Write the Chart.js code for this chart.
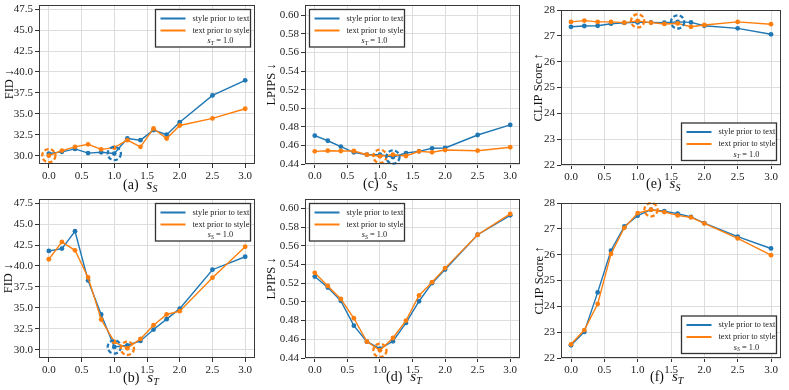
<!DOCTYPE html>
<html><head><meta charset="utf-8">
<script src="https://cdn.jsdelivr.net/npm/chart.js@4.4.0/dist/chart.umd.min.js"></script>
<style>
html,body{margin:0;padding:0;background:#fff;width:789px;height:390px;overflow:hidden;position:relative}
canvas{position:absolute}
</style></head><body>
<canvas id="pa"></canvas><canvas id="pc"></canvas><canvas id="pe"></canvas>
<canvas id="pb"></canvas><canvas id="pd"></canvas><canvas id="pf"></canvas>
<script>
// ---------- data ----------
const sGrid = [0.0, 0.2, 0.4, 0.6, 0.8, 1.0, 1.2, 1.4, 1.6, 1.8, 2.0, 2.5, 3.0];
const xTickValues = [0.0, 0.5, 1.0, 1.5, 2.0, 2.5, 3.0];
const fidTicks = [30.0, 32.5, 35.0, 37.5, 40.0, 42.5, 45.0, 47.5];
const lpipsTicks = [0.44, 0.46, 0.48, 0.50, 0.52, 0.54, 0.56, 0.58, 0.60];
const clipTicks = [22, 23, 24, 25, 26, 27, 28];
const seriesNames = ['style prior to text', 'text prior to style'];

// (a) FID vs s_S  (s_T = 1.0)
const fidVsSS_style = [30.25, 30.45, 30.8, 30.3, 30.4, 30.25, 32.05, 31.85, 33.05, 32.5, 34.0, 37.2, 39.0];
const fidVsSS_text  = [30.0, 30.6, 31.05, 31.35, 30.75, 30.95, 31.85, 31.05, 33.25, 32.05, 33.6, 34.45, 35.6];
// (c) LPIPS vs s_S
const lpipsVsSS_style = [0.4705, 0.465, 0.4587, 0.4526, 0.450, 0.450, 0.4475, 0.4518, 0.4536, 0.4569, 0.4572, 0.4712, 0.482];
const lpipsVsSS_text  = [0.4536, 0.4543, 0.454, 0.454, 0.450, 0.4483, 0.450, 0.4486, 0.4536, 0.4526, 0.455, 0.4543, 0.458];
// (e) CLIP vs s_S
const clipVsSS_style = [27.35, 27.38, 27.39, 27.47, 27.5, 27.52, 27.52, 27.51, 27.54, 27.52, 27.39, 27.29, 27.06];
const clipVsSS_text  = [27.54, 27.59, 27.54, 27.54, 27.51, 27.58, 27.51, 27.46, 27.48, 27.35, 27.42, 27.54, 27.45];
// (b) FID vs s_T  (s_S = 1.0)
const fidVsST_style = [41.79, 42.07, 44.15, 38.27, 34.2, 30.32, 30.52, 31.04, 32.4, 33.64, 34.9, 39.55, 41.1];
const fidVsST_text  = [40.8, 42.87, 41.87, 38.63, 33.6, 30.92, 30.16, 31.28, 32.92, 34.2, 34.6, 38.6, 42.3];
// (d) LPIPS vs s_T
const lpipsVsST_style = [0.5271, 0.5154, 0.5011, 0.4746, 0.4575, 0.450, 0.4579, 0.4775, 0.5007, 0.520, 0.5346, 0.5718, 0.5925];
const lpipsVsST_text  = [0.5311, 0.5171, 0.5032, 0.4825, 0.4575, 0.4482, 0.4614, 0.480, 0.5068, 0.5211, 0.5361, 0.5718, 0.594];
// (f) CLIP vs s_T
const clipVsST_style = [22.49, 23.01, 24.54, 26.16, 27.09, 27.51, 27.74, 27.68, 27.59, 27.46, 27.22, 26.70, 26.24];
const clipVsST_text  = [22.53, 23.08, 24.09, 26.03, 27.04, 27.61, 27.74, 27.65, 27.52, 27.44, 27.21, 26.63, 25.98];

// highlighted (best) points: index into sGrid
const bestA = {style: 5, text: 0};
const bestC = {style: 6, text: 5};
const bestE = {style: 8, text: 5};
const bestB = {style: 5, text: 6};
const bestD = {text: 5};
const bestF = {text: 6};

// ---------- styling ----------
const SERIF = '"Liberation Serif", "Times New Roman", serif';
const BLUE = '#1f77b4', ORANGE = '#ff7f0e';
const PAD_L = 48, PAD_T = 8, PAD_R = 8, X_H = 30;

function pts(ys) { return sGrid.map((x, i) => ({x: x, y: ys[i]})); }

function makeDecor(cfg) {
  return {
    id: 'decor_' + cfg.id,
    afterDatasetsDraw(chart) {
      const {ctx, scales: {x, y}} = chart;
      ctx.save();
      cfg.circles.forEach(c => {
        const px = x.getPixelForValue(sGrid[c.i]);
        const py = y.getPixelForValue(c.data[c.i]);
        ctx.setLineDash([4.2, 2.4]);
        ctx.lineWidth = 2.3;
        ctx.strokeStyle = c.color;
        ctx.beginPath();
        ctx.arc(px, py, 6.6, 0, Math.PI * 2);
        ctx.stroke();
      });
      ctx.restore();
    },
    afterDraw(chart) {
      const {ctx, chartArea: ca} = chart;
      ctx.save();
      // spines
      ctx.strokeStyle = '#3a3a3a';
      ctx.lineWidth = 1;
      ctx.strokeRect(Math.round(ca.left) + 0.5, Math.round(ca.top) + 0.5,
                     Math.round(ca.right - ca.left) - 1, Math.round(ca.bottom - ca.top) - 1);
      // legend
      const w = 95, h = 37.5, m = 4.5;
      let lx, ly;
      if (cfg.legend === 'ne') { lx = ca.right - m - w; ly = ca.top + m; }
      else if (cfg.legend === 'nw') { lx = ca.left + m; ly = ca.top + m; }
      else { lx = ca.right - m - w; ly = ca.bottom - m - h; }
      ctx.fillStyle = '#fff';
      ctx.fillRect(lx, ly, w, h);
      ctx.strokeStyle = '#333';
      ctx.lineWidth = 1.3;
      ctx.strokeRect(lx, ly, w, h);
      const rows = [ly + 9, ly + 21];
      [BLUE, ORANGE].forEach((col, k) => {
        ctx.strokeStyle = col; ctx.lineWidth = 2;
        ctx.beginPath(); ctx.moveTo(lx + 5, rows[k]); ctx.lineTo(lx + 30, rows[k]); ctx.stroke();
      });
      ctx.fillStyle = '#1a1a1a';
      ctx.textBaseline = 'middle';
      ctx.textAlign = 'left';
      ctx.font = '8.3px ' + SERIF;
      ctx.fillText(seriesNames[0], lx + 37, rows[0]);
      ctx.fillText(seriesNames[1], lx + 37, rows[1]);
      // third line: s_X = 1.0
      const ty = ly + 31.5;
      ctx.font = 'italic 8.3px ' + SERIF;
      const wS = ctx.measureText('s').width;
      ctx.font = 'italic 6px ' + SERIF;
      const wSub = ctx.measureText(cfg.fixedSub).width;
      ctx.font = '8.3px ' + SERIF;
      const rest = ' = 1.0';
      const wR = ctx.measureText(rest).width;
      let tx = lx + 37 + 28 - (wS + wSub + wR) / 2;
      ctx.font = 'italic 8.3px ' + SERIF; ctx.fillText('s', tx, ty); tx += wS;
      ctx.font = 'italic 6px ' + SERIF; ctx.fillText(cfg.fixedSub, tx, ty + 2); tx += wSub;
      ctx.font = '8.3px ' + SERIF; ctx.fillText(rest, tx, ty);
      // caption
      const cx = cfg.capX - chart.canvas.offsetLeft;
      const cy = ca.bottom + cfg.capDy;
      ctx.fillStyle = '#111';
      ctx.font = '14px ' + SERIF;
      ctx.fillText(cfg.letter, cx, cy);
      let px = cx + ctx.measureText(cfg.letter).width + 8;
      ctx.font = 'italic 15px ' + SERIF;
      ctx.fillText('s', px, cy);
      px += ctx.measureText('s').width;
      ctx.font = 'italic 10px ' + SERIF;
      ctx.fillText(cfg.varSub, px, cy + 4);
      ctx.restore();
    }
  };
}

function makePanel(cfg) {
  const cv = document.getElementById(cfg.id);
  const r = cfg.rect;
  const W = r.r - r.l + PAD_L + PAD_R, H = r.b - r.t + PAD_T + X_H;
  cv.width = W; cv.height = H;
  cv.style.width = W + 'px'; cv.style.height = H + 'px';
  cv.style.left = (r.l - PAD_L) + 'px'; cv.style.top = (r.t - PAD_T) + 'px';
  const tickFont = {family: SERIF, size: 11};
  new Chart(cv, {
    type: 'line',
    data: {
      datasets: [
        {label: seriesNames[0], data: pts(cfg.blue), borderColor: BLUE, backgroundColor: BLUE,
         borderWidth: 1.4, pointRadius: 2.4, pointBorderWidth: 0, pointHoverRadius: 2.4, tension: 0, order: 2},
        {label: seriesNames[1], data: pts(cfg.orange), borderColor: ORANGE, backgroundColor: ORANGE,
         borderWidth: 1.4, pointRadius: 2.4, pointBorderWidth: 0, pointHoverRadius: 2.4, tension: 0, order: 1}
      ]
    },
    options: {
      responsive: false, animation: false, devicePixelRatio: 1,
      layout: {padding: {left: 0, top: PAD_T, right: PAD_R, bottom: 0}},
      plugins: {legend: {display: false}, tooltip: {enabled: false}},
      scales: {
        x: {
          type: 'linear', min: -0.15, max: 3.15,
          afterBuildTicks: s => { s.ticks = xTickValues.map(v => ({value: v})); },
          afterFit: s => { s.height = X_H; s.paddingLeft = 0; s.paddingRight = 0; },
          ticks: {autoSkip: false, maxRotation: 0, font: tickFont, color: '#222', padding: 2,
                  callback: v => Number(v).toFixed(1)},
          grid: {color: '#dddddd', lineWidth: 1, tickColor: '#333', tickLength: 4},
          border: {display: false}
        },
        y: {
          type: 'linear', min: cfg.yMin, max: cfg.yMax,
          afterBuildTicks: s => { s.ticks = cfg.yTicks.map(v => ({value: v})); },
          afterFit: s => { s.width = PAD_L; s.paddingTop = 0; s.paddingBottom = 0; },
          ticks: {autoSkip: false, font: tickFont, color: '#222', padding: 2,
                  callback: v => Number(v).toFixed(cfg.yDec)},
          grid: {color: '#dddddd', lineWidth: 1, tickColor: '#333', tickLength: 4},
          border: {display: false},
          title: {display: true, text: cfg.yTitle, font: {family: SERIF, size: 12.5}, color: '#111',
                  padding: {top: cfg.titlePad, bottom: 0}}
        }
      }
    },
    plugins: [makeDecor(cfg)]
  });
}

makePanel({id: 'pa', rect: {l: 39, t: 5, r: 255, b: 164}, yMin: 29, yMax: 48, yTicks: fidTicks, yDec: 1,
  yTitle: 'FID ↓', titlePad: 11, blue: fidVsSS_style, orange: fidVsSS_text,
  circles: [{i: bestA.style, data: fidVsSS_style, color: BLUE}, {i: bestA.text, data: fidVsSS_text, color: ORANGE}],
  legend: 'ne', fixedSub: 'T', letter: '(a)', varSub: 'S', capX: 123, capDy: 21});
makePanel({id: 'pc', rect: {l: 305, t: 5, r: 520, b: 164}, yMin: 0.44, yMax: 0.611, yTicks: lpipsTicks, yDec: 2,
  yTitle: 'LPIPS ↓', titlePad: 7.5, blue: lpipsVsSS_style, orange: lpipsVsSS_text,
  circles: [{i: bestC.text, data: lpipsVsSS_text, color: ORANGE}, {i: bestC.style, data: lpipsVsSS_style, color: BLUE}],
  legend: 'nw', fixedSub: 'T', letter: '(c)', varSub: 'S', capX: 363, capDy: 20});
makePanel({id: 'pe', rect: {l: 561, t: 10, r: 781, b: 165}, yMin: 22, yMax: 28, yTicks: clipTicks, yDec: 0,
  yTitle: 'CLIP Score ↑', titlePad: 18, blue: clipVsSS_style, orange: clipVsSS_text,
  circles: [{i: bestE.text, data: clipVsSS_text, color: ORANGE}, {i: bestE.style, data: clipVsSS_style, color: BLUE}],
  legend: 'se', fixedSub: 'T', letter: '(e)', varSub: 'S', capX: 646, capDy: 19});
makePanel({id: 'pb', rect: {l: 39, t: 199, r: 255, b: 358}, yMin: 29, yMax: 48, yTicks: fidTicks, yDec: 1,
  yTitle: 'FID ↓', titlePad: 10, blue: fidVsST_style, orange: fidVsST_text,
  circles: [{i: bestB.style, data: fidVsST_style, color: BLUE}, {i: bestB.text, data: fidVsST_text, color: ORANGE}],
  legend: 'ne', fixedSub: 'S', letter: '(b)', varSub: 'T', capX: 123, capDy: 20});
makePanel({id: 'pd', rect: {l: 305, t: 199, r: 520, b: 358}, yMin: 0.44, yMax: 0.61, yTicks: lpipsTicks, yDec: 2,
  yTitle: 'LPIPS ↓', titlePad: 7.5, blue: lpipsVsST_style, orange: lpipsVsST_text,
  circles: [{i: bestD.text, data: lpipsVsST_text, color: ORANGE}],
  legend: 'nw', fixedSub: 'S', letter: '(d)', varSub: 'T', capX: 386, capDy: 19});
makePanel({id: 'pf', rect: {l: 561, t: 203, r: 781, b: 358}, yMin: 22, yMax: 28, yTicks: clipTicks, yDec: 0,
  yTitle: 'CLIP Score ↑', titlePad: 19, blue: clipVsST_style, orange: clipVsST_text,
  circles: [{i: bestF.text, data: clipVsST_text, color: ORANGE}],
  legend: 'se', fixedSub: 'S', letter: '(f)', varSub: 'T', capX: 650, capDy: 19});
</script>
</body></html>
